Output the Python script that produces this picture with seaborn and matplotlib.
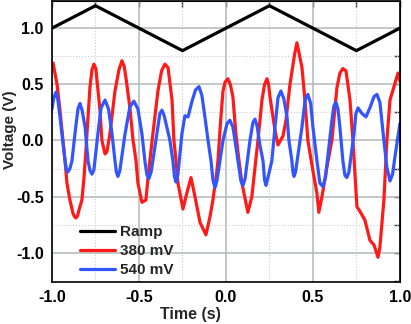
import matplotlib
matplotlib.use("Agg")
import matplotlib.pyplot as plt
from matplotlib.ticker import MultipleLocator
import seaborn as sns
import pandas as pd

# values
ramp_t = [-1.0, -0.75, -0.25, 0.25, 0.75, 1.0]
ramp_v = [1.0, 1.2, 0.8, 1.2, 0.8, 1.0]

red_t = [-1.0, -0.994, -0.971, -0.954, -0.937, -0.925, -0.914, -0.897, -0.879, -0.870,
         -0.862, -0.853, -0.845, -0.828, -0.816, -0.805, -0.799, -0.782, -0.770, -0.759,
         -0.748, -0.741, -0.724, -0.713, -0.695, -0.684, -0.667, -0.638, -0.615, -0.598,
         -0.585, -0.575, -0.552, -0.534, -0.517, -0.506, -0.483, -0.460, -0.448, -0.431,
         -0.420, -0.391, -0.370, -0.351, -0.333, -0.310, -0.299, -0.287, -0.276, -0.247,
         -0.230, -0.201, -0.178, -0.149, -0.115, -0.092, -0.075, -0.052, -0.046, -0.029,
         -0.017, -0.005, 0.011, 0.025, 0.040, 0.057, 0.075, 0.092, 0.126, 0.149,
         0.167, 0.184, 0.207, 0.222, 0.236, 0.245, 0.253, 0.282, 0.299, 0.328,
         0.345, 0.368, 0.395, 0.408, 0.420, 0.437, 0.454, 0.471, 0.500, 0.523,
         0.534, 0.552, 0.580, 0.609, 0.638, 0.655, 0.672, 0.690, 0.713, 0.730,
         0.753, 0.770, 0.799, 0.828, 0.851, 0.874, 0.885, 0.908, 0.925, 0.943,
         0.966, 0.989, 1.0]
red_v = [0.67, 0.69, 0.5, 0.27, 0.0, -0.18, -0.38, -0.53, -0.65, -0.68,
         -0.69, -0.67, -0.62, -0.53, -0.33, -0.09, 0.06, 0.47, 0.63, 0.68,
         0.64, 0.53, 0.27, 0.0, -0.12, -0.10, 0.06, 0.44, 0.63, 0.71,
         0.66, 0.56, 0.29, 0.0, -0.18, -0.38, -0.55, -0.53, -0.33, -0.09,
         0.06, 0.44, 0.62, 0.68, 0.65, 0.36, 0.0, -0.18, -0.38, -0.61,
         -0.5, -0.33, -0.5, -0.73, -0.84, -0.68, -0.53, -0.27, -0.18, 0.21,
         0.44, 0.52, 0.55, 0.50, 0.39, 0.06, -0.18, -0.38, -0.64, -0.5,
         -0.24, 0.0, 0.36, 0.50, 0.55, 0.50, 0.39, 0.09, -0.04, 0.04,
         0.18, 0.5, 0.77, 0.87, 0.78, 0.65, 0.36, 0.0, -0.27, -0.47,
         -0.64, -0.5, -0.24, 0.0, 0.47, 0.60, 0.64, 0.62, 0.36, 0.0,
         -0.59, -0.63, -0.71, -0.89, -0.93, -1.04, -0.95, -0.53, 0.0, 0.36,
         0.48, 0.6, 0.53]

blue_t = [-1.0, -0.990, -0.977, -0.966, -0.954, -0.925, -0.917, -0.908, -0.897, -0.885,
          -0.868, -0.851, -0.839, -0.827, -0.810, -0.793, -0.781, -0.770, -0.759, -0.736,
          -0.718, -0.695, -0.675, -0.655, -0.638, -0.630, -0.621, -0.610, -0.580, -0.552,
          -0.529, -0.506, -0.483, -0.466, -0.455, -0.443, -0.430, -0.397, -0.380, -0.368,
          -0.355, -0.322, -0.305, -0.296, -0.287, -0.276, -0.253, -0.236, -0.218, -0.195,
          -0.175, -0.155, -0.138, -0.121, -0.103, -0.086, -0.075, -0.063, -0.052, -0.017,
          0.006, 0.023, 0.040, 0.052, 0.069, 0.086, 0.098, 0.110, 0.138, 0.155,
          0.167, 0.180, 0.195, 0.213, 0.222, 0.230, 0.240, 0.264, 0.282, 0.299,
          0.316, 0.333, 0.351, 0.362, 0.379, 0.385, 0.391, 0.400, 0.437, 0.455,
          0.471, 0.487, 0.500, 0.523, 0.540, 0.557, 0.572, 0.609, 0.621, 0.632,
          0.644, 0.655, 0.672, 0.684, 0.695, 0.707, 0.736, 0.747, 0.759, 0.782,
          0.805, 0.830, 0.851, 0.868, 0.885, 0.908, 0.925, 0.943, 0.958, 0.971,
          1.0]
blue_v = [0.28, 0.38, 0.43, 0.36, 0.21, -0.18, -0.26, -0.28, -0.25, -0.18,
          0.06, 0.28, 0.33, 0.27, 0.12, -0.18, -0.27, -0.30, -0.26, 0.06,
          0.29, 0.36, 0.28, 0.06, -0.18, -0.28, -0.32, -0.27, 0.06, 0.30,
          0.35, 0.28, 0.06, -0.18, -0.30, -0.34, -0.28, 0.06, 0.24, 0.27,
          0.22, 0.0, -0.18, -0.32, -0.37, -0.30, 0.06, 0.22, 0.21, 0.35,
          0.45, 0.48, 0.40, 0.21, 0.0, -0.18, -0.35, -0.42, -0.36, 0.0,
          0.15, 0.18, 0.12, 0.0, -0.18, -0.36, -0.40, -0.34, 0.0, 0.16,
          0.19, 0.12, -0.04, -0.18, -0.35, -0.40, -0.34, -0.18, 0.12, 0.38,
          0.44, 0.37, 0.21, 0.0, -0.18, -0.28, -0.32, -0.28, 0.12, 0.36,
          0.41, 0.33, 0.12, -0.18, -0.38, -0.41, -0.33, 0.18, 0.31, 0.34,
          0.28, 0.12, -0.18, -0.31, -0.33, -0.28, 0.06, 0.24, 0.29, 0.24,
          0.21, 0.30, 0.39, 0.41, 0.34, 0.0, -0.24, -0.36, -0.30, -0.15,
          0.15]

series_names = ["Ramp", "380 mV", "540 mV"]
series_colors = ["black", "#ff1a1a", "#3355ff"]

sns.set_style("white")
plt.rcParams['font.family'] = ['Liberation Sans', 'DejaVu Sans']
plt.rcParams['font.weight'] = 'bold'

fig = plt.figure(figsize=(4.11, 3.24), dpi=100)
ax = fig.add_axes([0.1265, 0.1296, 0.8465, 0.8684])

ax.xaxis.set_major_locator(MultipleLocator(0.5))
ax.xaxis.set_minor_locator(MultipleLocator(0.25))
ax.yaxis.set_major_locator(MultipleLocator(0.5))
ax.yaxis.set_minor_locator(MultipleLocator(0.25))
ax.grid(which='major', color='#b4b8b8', linewidth=1.1, linestyle='-')
ax.grid(which='minor', color='#cccccc', linewidth=0.8, linestyle=':')
ax.set_axisbelow(True)

data = [(ramp_t, ramp_v), (red_t, red_v), (blue_t, blue_v)]
for (t, v), name, col in zip(data, series_names, series_colors):
    df = pd.DataFrame({"t": t, "v": v})
    sns.lineplot(data=df, x="t", y="v", color=col, linewidth=2.3, label=name,
                 sort=False, ax=ax)
for ln in ax.get_lines():
    ln.set_solid_joinstyle('round')

ax.set_xlim(-1.0, 1.0)
ax.set_ylim(-1.26, 1.245)
ax.set_xlabel("Time (s)", fontsize=11.5, fontweight='bold')
ax.set_ylabel("Voltage (V)", fontsize=11, fontweight='bold')
ax.xaxis.set_label_coords(0.397, -0.088)
ax.yaxis.set_label_coords(-0.1, 0.54)

for s in ax.spines.values():
    s.set_color('black')
    s.set_linewidth(1.2)

ax.tick_params(which='both', direction='out', length=4, width=1, colors='black',
               labelsize=11.5, pad=2)
ax.set_xticks([-1.0, -0.5, 0.0, 0.5, 1.0])
ax.set_xticklabels(["-1.0", "-0.5", "0.0", "0.5", "1.0"])
ax.set_yticks([-1.0, -0.5, 0.0, 0.5, 1.0])
ax.set_yticklabels(["-1.0", "-0.5", "0.0", "0.5", "1.0"])
for lab in ax.get_xticklabels() + ax.get_yticklabels():
    lab.set_fontweight('bold')

top = ax.secondary_xaxis('top')
top.xaxis.set_major_locator(MultipleLocator(0.5))
top.xaxis.set_minor_locator(MultipleLocator(0.25))
top.tick_params(which='both', direction='in', length=4, width=1, labeltop=False)
right = ax.secondary_yaxis('right')
right.yaxis.set_major_locator(MultipleLocator(0.5))
right.yaxis.set_minor_locator(MultipleLocator(0.25))
right.tick_params(which='both', direction='in', length=4, width=1, labelright=False)

leg = ax.legend(loc='lower left', bbox_to_anchor=(0.05, -0.02), frameon=False,
                fontsize=11, handlelength=2.3, handletextpad=0.3, labelspacing=0.32,
                borderpad=0.2)
for txt in leg.get_texts():
    txt.set_fontweight('bold')

fig.savefig("out.png", dpi=100)
